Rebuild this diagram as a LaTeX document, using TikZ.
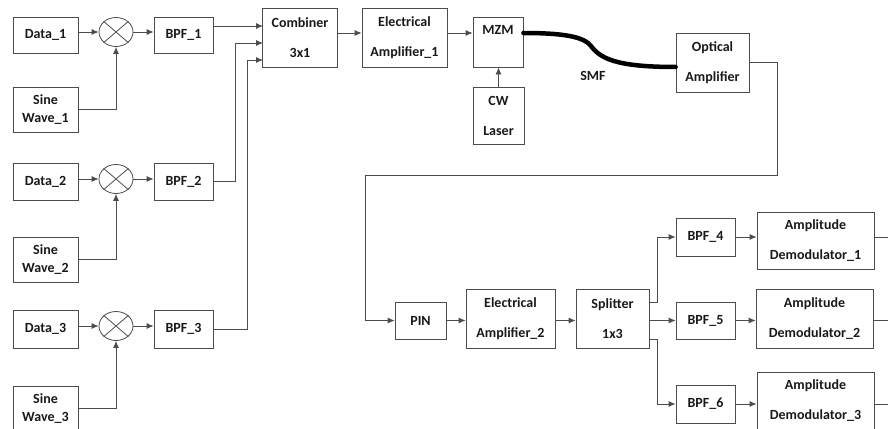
\documentclass[tikz,border=0pt]{standalone}
\usepackage{fontspec}
\setmainfont{Carlito}
\usetikzlibrary{shapes.geometric, arrows.meta}

\begin{document}
\begin{tikzpicture}[
      x=1pt, y=-1pt,
      box/.style={rectangle, draw=black!70, line width=0.8pt, inner sep=0pt, align=center, text=black!90, font=\bfseries\fontsize{14}{30}\selectfont},
      tight/.style={font=\bfseries\fontsize{14}{18}\selectfont},
      mixer/.style={ellipse, draw=black!70, line width=0.8pt, minimum width=34pt, minimum height=29pt, inner sep=0pt},
      wire/.style={draw=black!70, line width=0.8pt},
      arrow/.style={wire, -{Latex[length=7pt,width=6pt]}},
      fiber/.style={line width=4.5pt, black, line cap=round}
    ]
    \useasboundingbox (0,0) rectangle (888,428);
    \clip (0,0) rectangle (888,428);

    \node[box, minimum width=65pt, minimum height=36pt] (data1) at (45.5,35) {Data\_1};
    \node[box, minimum width=65pt, minimum height=37pt] (data2) at (45.5,181.5) {Data\_2};
    \node[box, minimum width=65pt, minimum height=38pt] (data3) at (45.5,329) {Data\_3};
    \node[box, tight, minimum width=65pt, minimum height=45pt] (sine1) at (45.5,109.5) {Sine\\Wave\_1};
    \node[box, tight, minimum width=65pt, minimum height=45pt] (sine2) at (45.5,259.5) {Sine\\Wave\_2};
    \node[box, tight, minimum width=65pt, minimum height=45pt] (sine3) at (45.5,408.5) {Sine\\Wave\_3};

    \node[mixer] (mix1) at (116,32) {};
    \node[mixer] (mix2) at (116,179) {};
    \node[mixer] (mix3) at (116,326) {};
    \foreach \m in {mix1,mix2,mix3} {
      \draw[wire] (\m.north west) -- (\m.south east);
      \draw[wire] (\m.south west) -- (\m.north east);
    }

    \node[box, minimum width=59pt, minimum height=36pt] (bpf1) at (183.5,35) {BPF\_1};
    \node[box, minimum width=59pt, minimum height=37pt] (bpf2) at (183.5,181.5) {BPF\_2};
    \node[box, minimum width=59pt, minimum height=38pt] (bpf3) at (183.5,329) {BPF\_3};

    \node[box, minimum width=75pt, minimum height=59pt] (comb) at (300,37.5) {Combiner\\3x1};
    \node[box, minimum width=85pt, minimum height=59pt] (amp1) at (404.5,37.5) {Electrical\\Amplifier\_1};
    \node[box, minimum width=50pt, minimum height=50pt] (mzm) at (498,42) {MZM\\[-6pt]\mbox{}};
    \node[box, minimum width=51pt, minimum height=57pt] (laser) at (498.5,115.5) {CW\\Laser};
    \node[box, minimum width=73pt, minimum height=59pt] (oamp) at (712.5,62.5) {Optical\\Amplifier};
    \node[text=black!90, font=\bfseries\fontsize{14}{16}\selectfont] (smf) at (593,76) {SMF};

    \node[box, minimum width=51pt, minimum height=37pt] (pin) at (420.5,320.5) {PIN};
    \node[box, minimum width=89pt, minimum height=59pt] (amp2) at (510.5,318.5) {Electrical\\Amplifier\_2};
    \node[box, minimum width=73pt, minimum height=59pt] (split) at (612.5,318.5) {Splitter\\1x3};

    \node[box, minimum width=59pt, minimum height=38pt] (bpf4) at (705.5,237) {BPF\_4};
    \node[box, minimum width=59pt, minimum height=37pt] (bpf5) at (705.5,320.5) {BPF\_5};
    \node[box, minimum width=59pt, minimum height=38pt] (bpf6) at (705.5,404) {BPF\_6};
    \node[box, minimum width=117pt, minimum height=57pt] (dem1) at (815.5,240.5) {Amplitude\\Demodulator\_1};
    \node[box, minimum width=117pt, minimum height=59pt] (dem2) at (814.5,318.5) {Amplitude\\Demodulator\_2};
    \node[box, minimum width=117pt, minimum height=57pt] (dem3) at (815.5,400.5) {Amplitude\\Demodulator\_3};

    \coordinate (in1) at (263,26);
    \coordinate (in2) at (263,43);
    \coordinate (in3) at (263,60);
    \coordinate (fbA) at (777,175);
    \coordinate (fbB) at (365,175);

    \draw[arrow] (data1.east |- mix1) -- (mix1.west);
    \draw[arrow] (data2.east |- mix2) -- (mix2.west);
    \draw[arrow] (data3.east |- mix3) -- (mix3.west);
    \draw[arrow] (sine1.east) -| (mix1.south);
    \draw[arrow] (sine2.east) -| (mix2.south);
    \draw[arrow] (sine3.east) -| (mix3.south);
    \draw[arrow] (mix1.east) -- (mix1.east -| bpf1.west);
    \draw[arrow] (mix2.east) -- (mix2.east -| bpf2.west);
    \draw[arrow] (mix3.east) -- (mix3.east -| bpf3.west);

    \draw[arrow] (bpf1.east |- in1) -- (in1);
    \draw[arrow] (bpf2.east) -- ++(22,0) |- (in2);
    \draw[arrow] (bpf3.east) -- ++(34,0) |- (in3);

    \draw[arrow] ([yshift=4.5pt]comb.east) -- ([yshift=4.5pt]amp1.west);
    \draw[arrow] ([yshift=4.5pt]amp1.east) -- ([yshift=4.5pt]amp1.east -| mzm.west);
    \draw[arrow] (laser.north) -- (laser.north |- mzm.south);
    \draw[fiber] ([yshift=9pt]mzm.east) .. controls (565,33) and (584,37) .. (591,46)
      .. controls (600,58) and (615,67) .. ([yshift=-4.5pt]oamp.west);

    \draw[arrow] (oamp.east) -| (fbA) -- (fbB) |- (pin.west);
    \draw[arrow] (pin.east) -- (pin.east -| amp2.west);
    \draw[arrow] (amp2.east |- pin) -- (split.west |- pin);

    \draw[arrow] ([yshift=16.5pt]split.east) -- ++(8,0) |- (bpf4.west);
    \draw[arrow] (split.east |- bpf5) -- (bpf5.west);
    \draw[arrow] ([yshift=-20.5pt]split.east) -- ++(8,0) |- (bpf6.west);

    \draw[arrow] (bpf4.east) -- (bpf4.east -| dem1.west);
    \draw[arrow] (bpf5.east) -- (bpf5.east -| dem2.west);
    \draw[arrow] (bpf6.east) -- (bpf6.east -| dem3.west);
    \draw[wire] (dem1.east |- bpf4) -- ++(20,0);
    \draw[wire] (dem2.east |- bpf5) -- ++(20,0);
    \draw[wire] (dem3.east |- bpf6) -- ++(20,0);
  \end{tikzpicture}
\end{document}
